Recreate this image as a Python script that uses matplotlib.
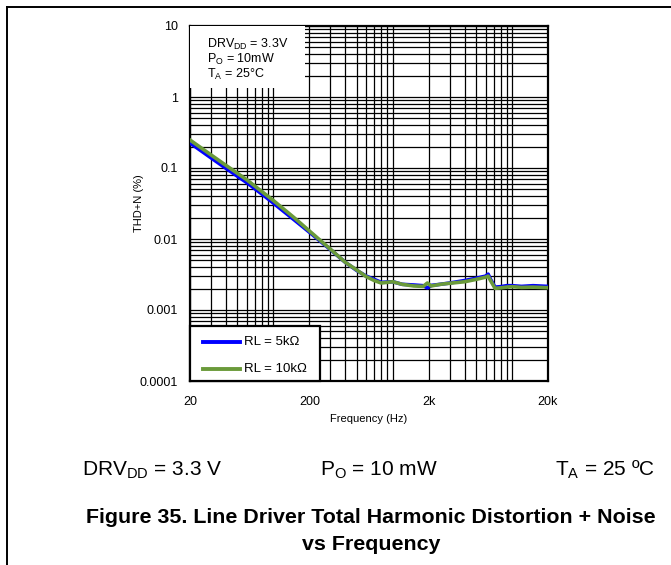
import matplotlib
matplotlib.use("Agg")
import matplotlib.pyplot as plt
from matplotlib.ticker import FixedLocator, LogLocator, NullFormatter, FixedFormatter
from matplotlib.lines import Line2D
from matplotlib.patches import Rectangle

plt.rcParams['font.family'] = ['Liberation Sans', 'DejaVu Sans']

freq = [20, 30, 40, 60, 80, 100, 150, 200, 300, 400, 500, 600, 700, 800, 1000,
        1200, 1500, 1800, 1950, 2100, 2500, 3000, 4000, 5000, 6000, 6300, 6600,
        7200, 8000, 9000, 10000, 12000, 15000, 20000]
thd_5k = [0.225, 0.139, 0.099, 0.062, 0.043, 0.032, 0.0185, 0.0125, 0.0071, 0.0047,
          0.0036, 0.0030, 0.0027, 0.00245, 0.0025, 0.0023, 0.00225, 0.0022, 0.00205,
          0.00222, 0.0023, 0.0024, 0.0026, 0.0028, 0.0030, 0.0032, 0.0027, 0.0021,
          0.00213, 0.0022, 0.0022, 0.00215, 0.0022, 0.00215]
thd_10k = [0.248, 0.153, 0.109, 0.068, 0.0466, 0.0348, 0.0198, 0.013, 0.0072, 0.0047,
           0.00365, 0.00295, 0.0026, 0.0024, 0.0025, 0.0023, 0.00218, 0.00215, 0.0024,
           0.00218, 0.0023, 0.00238, 0.0025, 0.0027, 0.0029, 0.0030, 0.0026, 0.00202,
           0.00205, 0.0021, 0.00213, 0.00208, 0.0021, 0.00206]
series_labels = ['RL = 5kΩ', 'RL = 10kΩ']
series_colors = ['#0000ff', '#6a9a3a']

x_ticks = [20, 200, 2000, 20000]
x_labels = ['20', '200', '2k', '20k']
y_ticks = [0.0001, 0.001, 0.01, 0.1, 1, 10]
y_labels = ['0.0001', '0.001', '0.01', '0.1', '1', '10']

fig = plt.figure(figsize=(6.71, 5.65), dpi=100)
W, H = 671, 565
AX_L, AX_R, AX_T, AX_B = 190, 548, 26, 381
ax = fig.add_axes([AX_L / W, 1 - AX_B / H, (AX_R - AX_L) / W, (AX_B - AX_T) / H])


def ax_xy(px, py):
    return (px - AX_L) / (AX_R - AX_L), (AX_B - py) / (AX_B - AX_T)


ax.set_xscale('log')
ax.set_yscale('log')
ax.set_xlim(20, 20000)
ax.set_ylim(0.0001, 10)

ax.plot(freq, thd_5k, color=series_colors[0], lw=2.6, zorder=3)
ax.plot(freq, thd_10k, color=series_colors[1], lw=2.6, zorder=4)

ax.xaxis.set_major_locator(FixedLocator(x_ticks))
ax.xaxis.set_major_formatter(FixedFormatter(x_labels))
ax.xaxis.set_minor_locator(LogLocator(base=10, subs=range(1, 10), numticks=30))
ax.xaxis.set_minor_formatter(NullFormatter())
ax.yaxis.set_major_locator(FixedLocator(y_ticks))
ax.yaxis.set_major_formatter(FixedFormatter(y_labels))
ax.yaxis.set_minor_locator(LogLocator(base=10, subs=range(1, 10), numticks=30))
ax.yaxis.set_minor_formatter(NullFormatter())

ax.grid(True, which='both', color='black', lw=0.9, zorder=1)
ax.set_axisbelow(True)
ax.tick_params(which='both', length=0, labelsize=9)
ax.tick_params(axis='y', pad=8.5)
ax.tick_params(axis='x', pad=11)
for s in ax.spines.values():
    s.set_linewidth(1.6)

ax.set_xlabel('Frequency (Hz)', fontsize=8, labelpad=4)
ax.set_ylabel('THD+N (%)', fontsize=8, labelpad=-3)

# condition box (white, top-left)
x0, y0 = ax_xy(190, 88)
x1, y1 = ax_xy(305, 26)
ax.add_patch(Rectangle((x0, y0), x1 - x0, y1 - y0, transform=ax.transAxes,
                       fc='white', ec='none', zorder=5))
tx, ty = ax_xy(207, 37)
ax.text(tx, ty,
        'DRV$_{\\mathregular{DD}}$ = 3.3V\nP$_{\\mathregular{O}}$ = 10mW\nT$_{\\mathregular{A}}$ = 25°C',
        transform=ax.transAxes, va='top', ha='left', fontsize=9, linespacing=1.0, zorder=6)

# legend box (lower left)
lx0, ly0 = ax_xy(190, 381)
lx1, ly1 = ax_xy(320, 326)
ax.add_patch(Rectangle((lx0, ly0), lx1 - lx0, ly1 - ly0, transform=ax.transAxes,
                       fc='white', ec='black', lw=1.6, zorder=7, clip_on=False))
for lab, col, py in zip(series_labels, series_colors, [342, 369]):
    a, b = ax_xy(203, py)
    c, _ = ax_xy(240, py)
    ax.add_line(Line2D([a, c], [b, b], color=col, lw=2.8, transform=ax.transAxes, zorder=8))
    t, _ = ax_xy(244, py)
    ax.text(t, b, lab, transform=ax.transAxes, fontsize=9.5, va='center', ha='left', zorder=8)

# page frame
fig.add_artist(Line2D([7 / W, 7 / W], [0, 1 - 7 / H], color='black', lw=1.4, transform=fig.transFigure))
fig.add_artist(Line2D([7 / W, 1], [1 - 7 / H, 1 - 7 / H], color='black', lw=1.4, transform=fig.transFigure))

yc = 1 - 470 / H
fig.text(82 / W, yc, 'DRV$_{\\mathregular{DD}}$ = 3.3 V', fontsize=15, va='center', ha='left')
fig.text(379 / W, yc, 'P$_{\\mathregular{O}}$ = 10 mW', fontsize=15, va='center', ha='center')
fig.text(655 / W, yc, 'T$_{\\mathregular{A}}$ = 25 ºC', fontsize=15, va='center', ha='right')

fig.text(371 / W, 1 - 531 / H, 'Figure 35. Line Driver Total Harmonic Distortion + Noise\nvs Frequency',
         fontsize=15.4, fontweight='bold', ha='center', va='center', linespacing=1.5)

fig.savefig('out.png', dpi=100)
